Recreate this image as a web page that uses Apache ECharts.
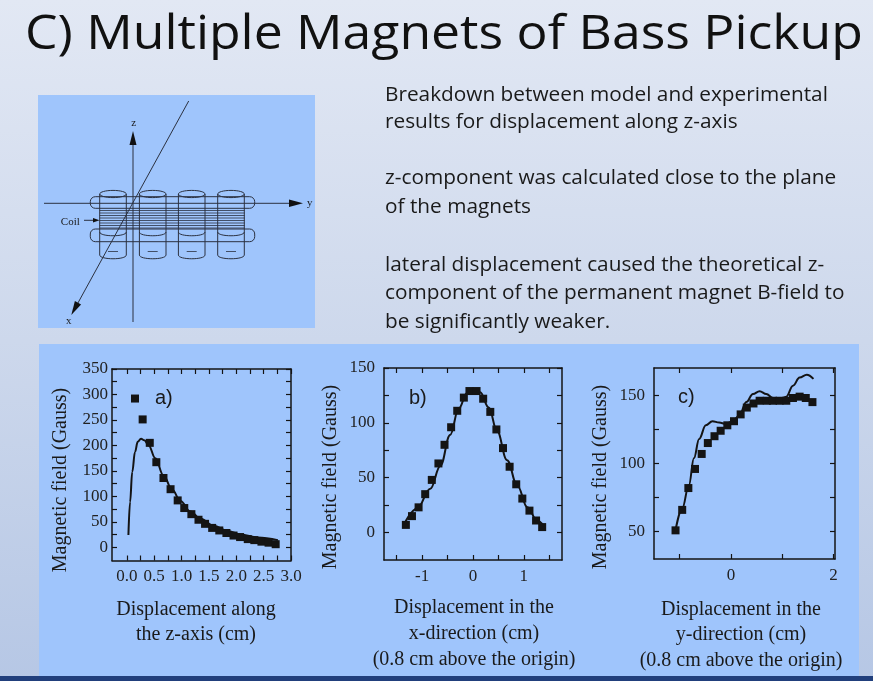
<!DOCTYPE html>
<html>
<head>
<meta charset="utf-8">
<script src="https://cdn.jsdelivr.net/npm/echarts@6/dist/echarts.min.js"></script>
<style>
  html, body { margin: 0; padding: 0; }
  #main { width: 873px; height: 681px; }
</style>
</head>
<body>
<div id="main"></div>
<script>
// a) displacement along the z-axis
const aMeasured = [[0.15,292],[0.29,251],[0.42,205],[0.54,167],[0.67,136],[0.80,114],[0.93,92],[1.05,77],[1.18,65],[1.31,54],[1.43,46],[1.56,38],[1.69,33],[1.82,28],[1.95,23],[2.07,20],[2.21,16],[2.33,14],[2.46,11],[2.59,9],[2.72,6]];
const aModel = [[0.03,24],[0.06,89],[0.10,148],[0.15,187],[0.20,207],[0.26,213],[0.32,210],[0.40,200],[0.52,175],[0.67,141],[0.83,113],[0.98,91],[1.16,70],[1.35,56],[1.59,42],[1.84,32],[2.08,25],[2.39,19],[2.76,14]];
// b) displacement in the x-direction
const bMeasured = [[-1.32,7],[-1.20,15],[-1.07,23],[-0.94,35],[-0.81,48],[-0.68,63],[-0.56,80],[-0.43,96],[-0.31,111],[-0.18,123],[-0.07,129],[0.07,129],[0.20,122],[0.34,110],[0.46,94],[0.59,77],[0.72,60],[0.85,44],[0.97,31],[1.11,20],[1.24,11],[1.36,5]];
const bModel = [[-1.36,7],[-1.10,22],[-0.84,40],[-0.64,61],[-0.45,89],[-0.28,113],[-0.12,127],[0.01,130],[0.14,128],[0.31,114],[0.47,93],[0.67,66],[0.87,43],[1.07,23],[1.26,11],[1.39,6]];
// c) displacement in the y-direction
const cMeasured = [[-1.08,51],[-0.95,66],[-0.83,82],[-0.70,96],[-0.57,107],[-0.45,115],[-0.32,120],[-0.20,124],[-0.07,128],[0.06,131],[0.19,136],[0.31,141],[0.44,144],[0.56,146],[0.70,146],[0.82,146],[0.95,146],[1.08,146],[1.21,148],[1.34,149],[1.46,148],[1.59,145]];
const cModel = [[-1.08,51],[-0.95,67],[-0.82,84],[-0.72,104],[-0.62,118],[-0.49,128],[-0.36,131],[-0.23,130],[-0.10,129],[0.03,131],[0.16,135],[0.30,145],[0.43,151],[0.56,153],[0.69,151],[0.82,148],[0.95,147],[1.08,149],[1.21,157],[1.34,163],[1.48,165],[1.61,162]];

// tick marks and labels
const aXTicks = [0,0.25,0.5,0.75,1,1.25,1.5,1.75,2,2.25,2.5,2.75,3];
const aXLabels = [0,0.5,1,1.5,2,2.5,3];
const aYTicks = [0,25,50,75,100,125,150,175,200,225,250,275,300,325,350];
const aYLabels = [0,50,100,150,200,250,300,350];
const bXTicks = [-1.5,-1,-0.5,0,0.5,1,1.5];
const bXLabels = [-1,0,1];
const bYTicks = [0,25,50,75,100,125,150];
const bYLabels = [0,50,100,150];
const cXTicks = [-1,0,1,2];
const cXLabels = [0,2];
const cYTicks = [50,75,100,125,150];
const cYLabels = [50,100,150];

const serif = '"Liberation Serif", "DejaVu Serif", serif';
const sans = '"Open Sans", Lato, sans-serif';
const ink = '#141414';
const panel = '#9fc5fc';

const chart = echarts.init(document.getElementById('main'));

function xAxes(g, min, max, ticks, labels, fmt) {
  const base = {
    type: 'value', gridIndex: g, min: min, max: max,
    splitLine: { show: false },
    axisLine: { show: true, onZero: false, lineStyle: { color: ink, width: 1.5 } },
    axisTick: { show: true, inside: true, length: 5, customValues: ticks, lineStyle: { color: ink, width: 1.2 } }
  };
  return [
    { ...base, position: 'bottom',
      axisLabel: { customValues: labels, formatter: fmt, fontFamily: serif, fontSize: 17, color: '#222', margin: 8 } },
    { ...base, position: 'top', axisLabel: { show: false } }
  ];
}

function yAxes(g, min, max, ticks, labels, margin) {
  const base = {
    type: 'value', gridIndex: g, min: min, max: max,
    splitLine: { show: false },
    axisLine: { show: true, onZero: false, lineStyle: { color: ink, width: 1.5 } },
    axisTick: { show: true, inside: true, length: 5, customValues: ticks, lineStyle: { color: ink, width: 1.2 } }
  };
  return [
    { ...base, position: 'left',
      axisLabel: { customValues: labels, fontFamily: serif, fontSize: 17, color: '#222', margin: margin } },
    { ...base, position: 'right', axisLabel: { show: false } }
  ];
}

function measured(data, g) {
  return { type: 'scatter', data: data, xAxisIndex: g * 2, yAxisIndex: g * 2,
    symbol: 'rect', symbolSize: 8, itemStyle: { color: ink, opacity: 1 }, z: 4 };
}
function model(data, g) {
  return { type: 'line', data: data, xAxisIndex: g * 2, yAxisIndex: g * 2,
    smooth: 0.4, smoothMonotone: 'x', showSymbol: false,
    lineStyle: { color: ink, width: 2 }, z: 3 };
}

function txt(x, y, text, size, family, extra) {
  return Object.assign({ type: 'text', x: x, y: y, silent: true,
    style: Object.assign({ text: text, fontSize: size, fontFamily: family, fill: '#1a1a1a',
      align: 'left', verticalAlign: 'middle', textAlign: 'left', textVerticalAlign: 'middle' }, extra && extra.style) },
    extra && extra.el);
}
function ctxt(x, y, text, size, family) {
  return txt(x, y, text, size, family, { style: { align: 'center', textAlign: 'center' } });
}
function ytitle(x, y) {
  return txt(x, y, 'Magnetic field (Gauss)', 20, serif,
    { style: { align: 'center', textAlign: 'center' }, el: { rotation: Math.PI / 2 } });
}

// pickup sketch
const dStroke = '#2b3140';
function seg(x1, y1, x2, y2, w) {
  return { type: 'line', silent: true, shape: { x1: x1, y1: y1, x2: x2, y2: y2 },
    style: { stroke: dStroke, lineWidth: w || 1 } };
}
function arrowHead(pts) {
  return { type: 'polygon', silent: true, shape: { points: pts }, style: { fill: '#111' } };
}
const sketch = [];
const magnetX = [113, 152.7, 191.7, 231];
magnetX.forEach(function (cx) {
  const r = 13.3;
  sketch.push({ type: 'ellipse', silent: true, shape: { cx: cx, cy: 194, rx: r, ry: 3.6 },
    style: { fill: 'none', stroke: dStroke, lineWidth: 1 } });
  sketch.push(seg(cx - r, 194, cx - r, 255));
  sketch.push(seg(cx + r, 194, cx + r, 255));
  sketch.push({ type: 'bezierCurve', silent: true,
    shape: { x1: cx - r, y1: 255, x2: cx + r, y2: 255, cpx1: cx - r, cpy1: 260, cpx2: cx + r, cpy2: 260 },
    style: { fill: 'none', stroke: dStroke, lineWidth: 1 } });
  sketch.push({ type: 'bezierCurve', silent: true,
    shape: { x1: cx - r, y1: 232, x2: cx + r, y2: 232, cpx1: cx - r, cpy1: 237, cpx2: cx + r, cpy2: 237 },
    style: { fill: 'none', stroke: dStroke, lineWidth: 1 } });
  sketch.push(seg(cx - 5, 251.5, cx + 5, 251.5, 0.8));
});
sketch.push({ type: 'rect', silent: true, shape: { x: 90.3, y: 196.7, width: 164.4, height: 11.6, r: 5 },
  style: { fill: 'none', stroke: dStroke, lineWidth: 1 } });
sketch.push({ type: 'rect', silent: true, shape: { x: 90.3, y: 229, width: 164.4, height: 12.7, r: 5 },
  style: { fill: 'none', stroke: dStroke, lineWidth: 1 } });
[210.5, 213, 215.5, 218, 220.5, 223, 225.5, 228].forEach(function (y) {
  sketch.push(seg(99.7, y, 244.7, y, 0.8));
});
// coordinate axes of the sketch
sketch.push(seg(133, 322, 133, 142, 1));
sketch.push(arrowHead([[133, 131], [129.5, 145], [136.5, 145]]));
sketch.push(seg(44, 203.3, 292, 203.3, 1));
sketch.push(arrowHead([[303, 203.3], [289, 199.6], [289, 207]]));
sketch.push(seg(188.7, 101, 76, 306.5, 1));
sketch.push(arrowHead([[71.3, 315], [81.1, 304.4], [74.9, 301.0]]));
sketch.push(ctxt(133.7, 123, 'z', 11, serif));
sketch.push(ctxt(309.7, 203, 'y', 11, serif));
sketch.push(ctxt(68.7, 321.5, 'x', 11, serif));
sketch.push(ctxt(70.3, 222.5, 'Coil', 11, serif));
sketch.push(seg(84, 220.3, 95, 220.3, 1));
sketch.push(arrowHead([[99.5, 220.3], [93, 218], [93, 222.6]]));

const graphics = [
  { type: 'rect', silent: true, z: -10, shape: { x: 0, y: 0, width: 873, height: 681 },
    style: { fill: new echarts.graphic.LinearGradient(0, 0, 0, 1, [
      { offset: 0, color: '#e2e8f4' }, { offset: 0.5, color: '#cdd8ec' }, { offset: 1, color: '#b6c7e5' }]) } },
  { type: 'rect', silent: true, z: -9, shape: { x: 0, y: 676, width: 873, height: 5 }, style: { fill: '#213f7c' } },
  { type: 'rect', silent: true, z: -9, shape: { x: 38, y: 95, width: 277, height: 233 }, style: { fill: panel } },
  { type: 'rect', silent: true, z: -9, shape: { x: 39, y: 344, width: 820, height: 332 }, style: { fill: panel } },
  txt(25, 35, 'C) Multiple Magnets of Bass Pickup', 48, sans, { style: { fill: '#111' }, el: { scaleX: 1.077 } }),
  txt(385, 95, 'Breakdown between model and experimental', 20.8, sans),
  txt(385, 121.7, 'results for displacement along z-axis', 20.8, sans),
  txt(385, 178, 'z-component was calculated close to the plane', 20.8, sans),
  txt(385, 206.7, 'of the magnets', 20.8, sans),
  txt(385, 265, 'lateral displacement caused the theoretical z-', 20.8, sans),
  txt(385, 293, 'component of the permanent magnet B-field to', 20.8, sans),
  txt(385, 321.7, 'be significantly weaker.', 20.8, sans),
  ytitle(61, 480), ytitle(331, 477), ytitle(601, 477),
  txt(155, 398, 'a)', 20, '"Liberation Sans", Arial, sans-serif'),
  txt(409, 398, 'b)', 20, '"Liberation Sans", Arial, sans-serif'),
  txt(678, 397, 'c)', 20, '"Liberation Sans", Arial, sans-serif'),
  ctxt(196, 610, 'Displacement along', 20, serif),
  ctxt(196, 635, 'the z-axis (cm)', 20, serif),
  ctxt(474, 608, 'Displacement in the', 20, serif),
  ctxt(474, 634, 'x-direction (cm)', 20, serif),
  ctxt(474, 660, '(0.8 cm above the origin)', 20, serif),
  ctxt(741, 610, 'Displacement in the', 20, serif),
  ctxt(741, 635, 'y-direction (cm)', 20, serif),
  ctxt(741, 661, '(0.8 cm above the origin)', 20, serif)
].concat(sketch);

chart.setOption({
  animation: false,
  graphic: { elements: graphics },
  grid: [
    { left: 112, top: 369, width: 179, height: 191.5 },
    { left: 384, top: 368, width: 178, height: 192 },
    { left: 654, top: 368, width: 181, height: 191 }
  ],
  xAxis: [].concat(
    xAxes(0, -0.27, 3.0, aXTicks, aXLabels, function (v) { return v.toFixed(1); }),
    xAxes(1, -1.75, 1.75, bXTicks, bXLabels),
    xAxes(2, -1.5, 2.03, cXTicks, cXLabels)
  ),
  yAxis: [].concat(
    yAxes(0, -26, 350, aYTicks, aYLabels, 4),
    yAxes(1, -25, 150, bYTicks, bYLabels, 9),
    yAxes(2, 30, 170, cYTicks, cYLabels, 9)
  ),
  series: [
    model(aModel, 0), measured(aMeasured, 0),
    model(bModel, 1), measured(bMeasured, 1),
    model(cModel, 2), measured(cMeasured, 2)
  ]
});
</script>
</body>
</html>
